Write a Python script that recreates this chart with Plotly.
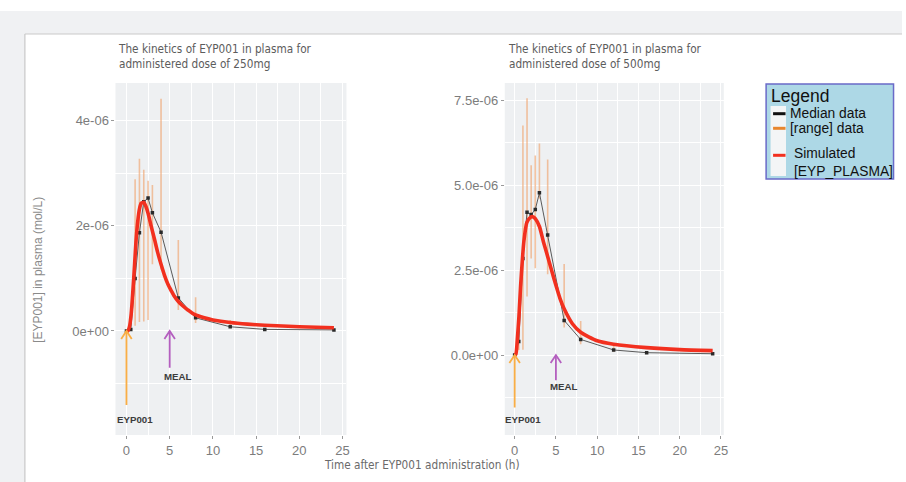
import plotly.graph_objects as go

# ---------------- data ----------------
t_obs = [0, 0.5, 1, 1.5, 2, 2.5, 3, 4, 6, 8, 12, 16, 24]

med_250 = [0, 0.03, 1.00, 1.87, 2.46, 2.53, 2.25, 1.88, 0.63, 0.25, 0.08, 0.03, 0.02]
lo_250 = [0, 0.01, 0.10, 0.17, 0.18, 0.21, 1.27, 1.17, 0.40, 0.15, 0.05, 0.02, 0.01]
hi_250 = [0, 0.05, 2.89, 3.28, 3.07, 2.86, 2.78, 4.42, 1.73, 0.64, 0.21, 0.05, 0.03]

med_500 = [0, 0.40, 2.84, 4.20, 4.13, 4.28, 4.77, 3.53, 1.02, 0.46, 0.15, 0.07, 0.04]
lo_500 = [0, 0.15, 0.16, 1.72, 2.84, 2.55, 4.60, 2.38, 0.81, 0.32, 0.10, 0.04, 0.02]
hi_500 = [0, 1.55, 6.75, 7.55, 5.58, 5.87, 6.22, 5.75, 2.68, 1.00, 0.30, 0.10, 0.06]

t_sim_250 = [0, 0.15, 0.35, 0.55, 0.75, 0.95, 1.1, 1.3, 1.5, 1.7, 2.0, 2.25, 2.5, 2.85,
             3.25, 3.6, 4.0, 4.4, 4.8, 5.2, 5.5, 6.0, 6.5, 7.1, 7.8, 9, 10, 12, 14, 16, 20, 24]
sim_250 = [0, 0.0, 0.08, 0.33, 0.78, 1.29, 1.70, 2.08, 2.32, 2.43, 2.45, 2.37, 2.24, 2.0,
           1.74, 1.50, 1.27, 1.06, 0.89, 0.76, 0.67, 0.56, 0.48, 0.40, 0.32, 0.25, 0.21,
           0.16, 0.13, 0.11, 0.08, 0.06]

t_sim_500 = [0, 0.15, 0.32, 0.52, 0.72, 0.92, 1.12, 1.48, 1.9, 2.2, 2.5, 3.0, 3.5, 4.0,
             4.5, 5.0, 5.5, 6.0, 7.0, 8.0, 10, 12, 16, 20, 24]
sim_500 = [0, 0.03, 0.45, 1.14, 2.03, 2.75, 3.35, 3.90, 4.05, 4.07, 4.01, 3.78, 3.32, 2.90,
           2.47, 2.05, 1.66, 1.36, 0.92, 0.67, 0.42, 0.32, 0.22, 0.16, 0.13]

UNIT = 1e-6  # mol/L

# annotation arrows: [x, y_tail, y_head] (y in 1e-6 mol/L)
eyp_arrow_250 = [0, -1.41, 0]
meal_arrow_250 = [5, -0.70, 0]
eyp_arrow_500 = [0, -1.54, 0]
meal_arrow_500 = [5, -0.74, 0]
eyp_label_250 = [0.98, -1.68]
meal_label_250 = [6.0, -0.86]
eyp_label_500 = [0.99, -1.88]
meal_label_500 = [6.04, -0.93]

titles = ["The kinetics of EYP001 in plasma for<br>administered dose of 250mg",
          "The kinetics of EYP001 in plasma for<br>administered dose of 500mg"]
x_ticks = [0, 5, 10, 15, 20, 25]
y_ticks_250 = [0, 2e-6, 4e-6]
y_ticklabels_250 = ["0e+00", "2e-06", "4e-06"]
y_ticks_500 = [0, 2.5e-6, 5e-6, 7.5e-6]
y_ticklabels_500 = ["0.0e+00", "2.5e-06", "5.0e-06", "7.5e-06"]

legend_labels = ["Median data", "[range] data", "Simulated<br>[EYP_PLASMA]"]

# ---------------- layout geometry ----------------
W, H = 906, 482
def px(x): return x / W
def py(y): return 1 - y / H

panels = [
    dict(x0=116, x1=348, xr=[-1.27, 25.45], yr=[-1.98e-6, 4.72e-6]),
    dict(x0=507, x1=727, xr=[-1.2, 25.35], yr=[-2.35e-6, 8.0e-6]),
]
Y0, Y1 = 83, 435

RED = "#F2301F"
ORANGE_BAR = "rgba(240,165,110,0.65)"
EYP_COL = "#F9AE45"
MEAL_COL = "#B45FBF"
NARROW = "Liberation Sans Narrow, DejaVu Sans Condensed, sans-serif"

fig = go.Figure()

datasets = [
    (med_250, lo_250, hi_250, t_sim_250, sim_250, eyp_arrow_250, meal_arrow_250,
     eyp_label_250, meal_label_250),
    (med_500, lo_500, hi_500, t_sim_500, sim_500, eyp_arrow_500, meal_arrow_500,
     eyp_label_500, meal_label_500),
]

annotations = []
for i, (med, lo, hi, ts, sim, ea, ma, el, ml) in enumerate(datasets):
    xa = "x" if i == 0 else "x2"
    ya = "y" if i == 0 else "y2"
    p = panels[i]
    sx = (p["x1"] - p["x0"]) / (p["xr"][1] - p["xr"][0])
    sy = (Y1 - Y0) / (p["yr"][1] - p["yr"][0])
    hx = 5.3 / sx
    hy = 8.0 / sy

    bx, by = [], []
    for t, l, h in zip(t_obs, lo, hi):
        if h - l <= 0:
            continue
        bx += [t, t, None]
        by += [l * UNIT, h * UNIT, None]
    fig.add_trace(go.Scatter(x=bx, y=by, mode="lines", xaxis=xa, yaxis=ya,
                             line=dict(color=ORANGE_BAR, width=1.6),
                             showlegend=False, hoverinfo="skip"))
    fig.add_trace(go.Scatter(x=t_obs, y=[v * UNIT for v in med], mode="lines+markers",
                             xaxis=xa, yaxis=ya,
                             line=dict(color="#5a5a5a", width=1),
                             marker=dict(color="#2a2a2a", size=3.5, symbol="square"),
                             showlegend=False))
    fig.add_trace(go.Scatter(x=ts, y=[v * UNIT for v in sim], mode="lines",
                             xaxis=xa, yaxis=ya,
                             line=dict(color=RED, width=3.6, shape="spline", smoothing=0.6),
                             showlegend=False))
    for arr, col in ((ea, EYP_COL), (ma, MEAL_COL)):
        x, yt, yh = arr[0], arr[1] * UNIT, arr[2] * UNIT
        fig.add_trace(go.Scatter(
            x=[x, x, None, x - hx, x, x + hx],
            y=[yt, yh, None, yh - hy, yh, yh - hy],
            mode="lines", xaxis=xa, yaxis=ya,
            line=dict(color=col, width=1.8), showlegend=False, hoverinfo="skip"))
    annotations.append(dict(x=el[0], y=el[1] * UNIT, xref=xa, yref=ya, text="<b>EYP001</b>",
                            showarrow=False, xanchor="center", yanchor="middle",
                            font=dict(family="Liberation Sans, Arial", size=9.7,
                                      color="#3c3c3c")))
    annotations.append(dict(x=ml[0], y=ml[1] * UNIT, xref=xa, yref=ya, text="<b>MEAL</b>",
                            showarrow=False, xanchor="center", yanchor="middle",
                            font=dict(family="Liberation Sans, Arial", size=9.7,
                                      color="#3c3c3c")))
    annotations.append(dict(x=px(p["x0"] + 1), y=py(56.5), xref="paper", yref="paper",
                            xanchor="left", yanchor="middle", align="left", text=titles[i],
                            showarrow=False,
                            font=dict(family=NARROW, size=11.7, color="#5c5c5c")))

annotations.append(dict(x=px(423.5), y=py(465), xref="paper", yref="paper", showarrow=False,
                        xanchor="center", yanchor="middle",
                        text="Time after EYP001 administration (h)",
                        font=dict(family=NARROW, size=11.7, color="#6a6a6a")))
annotations.append(dict(x=px(38), y=py(270), xref="paper", yref="paper", showarrow=False,
                        xanchor="center", yanchor="middle",
                        text="[EYP001] in plasma (mol/L)", textangle=-90,
                        font=dict(family="Liberation Sans, Arial", size=12, color="#8a8a8a")))

shapes = [
    dict(type="rect", xref="paper", yref="paper", x0=0, x1=1, y0=py(34), y1=py(11),
         fillcolor="#F0F1F3", line=dict(width=0), layer="below"),
    dict(type="rect", xref="paper", yref="paper", x0=0, x1=px(25), y0=0, y1=py(11),
         fillcolor="#F0F1F3", line=dict(width=0), layer="below"),
    dict(type="line", xref="paper", yref="paper", x0=px(25), x1=1, y0=py(34), y1=py(34),
         line=dict(color="#C9C9C9", width=1.2)),
    dict(type="line", xref="paper", yref="paper", x0=px(25), x1=px(25), y0=0, y1=py(34),
         line=dict(color="#C9C9C9", width=1.2)),
    dict(type="rect", xref="paper", yref="paper", x0=px(769.5), x1=px(897.5),
         y0=py(179), y1=py(84), fillcolor="#ADD8E6", line=dict(color="#6A6AC8", width=1.5)),
    dict(type="rect", xref="paper", yref="paper", x0=px(774), x1=px(789.5),
         y0=py(176), y1=py(106), fillcolor="#F3F5F6", line=dict(width=0)),
]
key_cols = ["#111111", "#E8862E", RED]
key_y = [113.7, 128.3, 155.3]
key_tx = [791, 791, 796]
key_ty = [113.7, 128.3, 162.3]
for col, ky, tx, ty, lab in zip(key_cols, key_y, key_tx, key_ty, legend_labels):
    shapes.append(dict(type="line", xref="paper", yref="paper", x0=px(776.5), x1=px(789),
                       y0=py(ky), y1=py(ky), line=dict(color=col, width=3)))
    annotations.append(dict(x=px(tx), y=py(ty), xref="paper", yref="paper", xanchor="left",
                            yanchor="middle", align="left", text=lab, showarrow=False,
                            font=dict(family="Liberation Sans, Arial", size=13.8,
                                      color="#111111")))
annotations.append(dict(x=px(772.5), y=py(96), xref="paper", yref="paper", xanchor="left",
                        yanchor="middle", text="Legend", showarrow=False,
                        font=dict(family="Liberation Sans, Arial", size=17.5, color="#111111")))

tickfont = dict(family="Liberation Sans, Arial", size=13, color="#7c7c7c")
def xaxis(i):
    p = panels[i]
    return dict(domain=[px(p["x0"]), px(p["x1"])], range=p["xr"], tickvals=x_ticks,
                ticks="outside", ticklen=3, tickcolor="#999999", tickwidth=1,
                tickfont=tickfont, showgrid=True, gridcolor="white", gridwidth=1.1,
                minor=dict(dtick=2.5, tick0=0, showgrid=True, gridcolor="white",
                           gridwidth=0.5, ticks=""),
                zeroline=False, showline=False, anchor="y" if i == 0 else "y2")
def yaxis(i, tv, tt):
    p = panels[i]
    return dict(domain=[py(Y1), py(Y0)], range=p["yr"], tickvals=tv, ticktext=tt,
                ticks="outside", ticklen=3, tickcolor="#999999", tickwidth=1,
                tickfont=tickfont, showgrid=True, gridcolor="white", gridwidth=1.1,
                minor=dict(dtick=tv[1] / 2, tick0=0, showgrid=True, gridcolor="white",
                           gridwidth=0.5, ticks=""),
                zeroline=False, showline=False, anchor="x" if i == 0 else "x2")

fig.update_layout(
    width=W, height=H, margin=dict(l=0, r=0, t=0, b=0),
    paper_bgcolor="white", plot_bgcolor="#EEF0F2",
    xaxis=xaxis(0), xaxis2=xaxis(1),
    yaxis=yaxis(0, y_ticks_250, y_ticklabels_250),
    yaxis2=yaxis(1, y_ticks_500, y_ticklabels_500),
    shapes=shapes, annotations=annotations, showlegend=False,
)

fig.write_html("out.html", config={"displayModeBar": False},
               post_script="document.body.style.margin='0';"
                           "document.body.style.overflow='hidden';")
